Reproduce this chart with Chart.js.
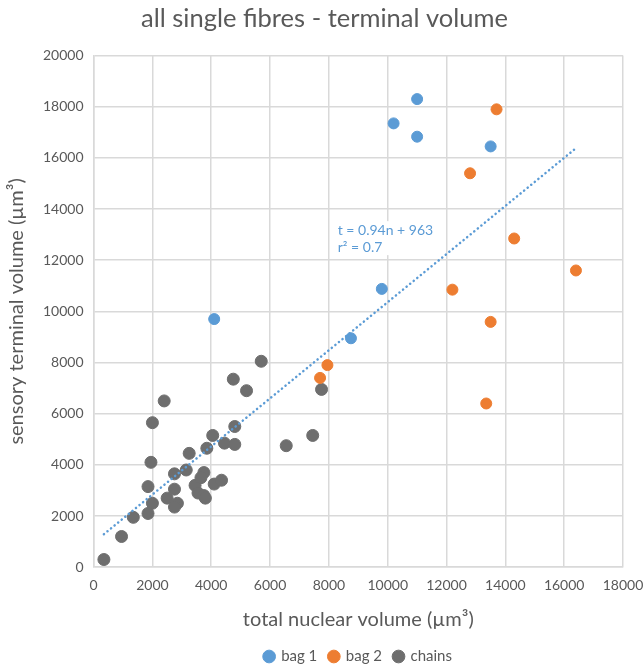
<!DOCTYPE html>
<html>
<head>
<meta charset="utf-8">
<script src="https://cdn.jsdelivr.net/npm/chart.js@4"></script>
<style>
  html, body { margin: 0; padding: 0; background: #fff; }
  #wrap { width: 644px; height: 667px; }
</style>
</head>
<body>
<div id="wrap"><canvas id="myChart" width="644" height="667"></canvas></div>
<script>
// values
const bag1X = [11000, 10200, 11000, 13500, 9800, 4100, 8750]
const bag1Y = [18300, 17350, 16830, 16450, 10880, 9700, 8950]

const bag2X = [13700, 12800, 14300, 16400, 12200, 13500, 7950, 7700, 13350]
const bag2Y = [17900, 15400, 12850, 11600, 10850, 9590, 7900, 7400, 6400]

const chainsX = [7750, 5700, 4750, 5200, 2400, 2000, 7450, 6550, 4800, 4450, 4800, 4050,
  3850, 3250, 3150, 2750, 2750, 1950, 1850, 2000, 1850, 1350, 950, 350, 2500, 2850,
  2750, 3450, 3550, 3750, 3650, 3750, 3800, 4100, 4350]
const chainsY = [6950, 8050, 7350, 6900, 6500, 5650, 5150, 4750, 5500, 4850, 4800, 5150,
  4650, 4450, 3800, 3650, 3050, 4100, 3150, 2500, 2100, 1950, 1200, 300, 2700, 2500,
  2350, 3200, 2900, 3700, 3500, 2800, 2700, 3250, 3400]

// trendline end points as drawn
const trendX = [350, 16400]
const trendY = [1290, 16380]

const xTicks = [0, 2000, 4000, 6000, 8000, 10000, 12000, 14000, 16000, 18000]
const yTicks = [0, 2000, 4000, 6000, 8000, 10000, 12000, 14000, 16000, 18000, 20000]

const blue = '#5B9BD5'
const orange = '#ED7D31'
const gray = '#6E6E6E'
const textColor = '#595959'
const gridColor = '#D9D9D9'
const font = 'Lato, "Open Sans", sans-serif'

function toPoints(xs, ys) {
  return xs.map((x, i) => ({ x: x, y: ys[i] }))
}

const trendLabel = {
  id: 'trendLabel',
  afterDatasetsDraw(chart) {
    const ctx = chart.ctx
    const x = chart.scales.x.getPixelForValue(8300)
    const y = chart.scales.y.getPixelForValue(13450)
    ctx.save()
    ctx.font = '14px ' + font
    ctx.fillStyle = '#fff'
    ctx.fillRect(x - 3, y - 2, 104, 34)
    ctx.fillStyle = blue
    ctx.textBaseline = 'top'
    ctx.fillText('t = 0.94n + 963', x, y)
    ctx.fillText('r² = 0.7', x, y + 17)
    ctx.restore()
  }
}

const chart = new Chart(document.getElementById('myChart').getContext('2d'), {
  type: 'scatter',
  data: {
    datasets: [
      {
        label: 'bag 1',
        data: toPoints(bag1X, bag1Y),
        backgroundColor: blue,
        borderColor: blue,
        pointRadius: 5.5,
        order: 2
      },
      {
        label: 'bag 2',
        data: toPoints(bag2X, bag2Y),
        backgroundColor: orange,
        borderColor: orange,
        pointRadius: 5.5,
        order: 2
      },
      {
        label: 'chains',
        data: toPoints(chainsX, chainsY),
        backgroundColor: gray,
        borderColor: gray,
        pointRadius: 6,
        order: 3
      },
      {
        label: 'trend',
        type: 'line',
        data: toPoints(trendX, trendY),
        borderColor: blue,
        borderWidth: 2.5,
        borderDash: [0.1, 4.5],
        borderCapStyle: 'round',
        pointRadius: 0,
        fill: false,
        order: 1
      }
    ]
  },
  options: {
    responsive: false,
    animation: false,
    layout: { padding: { left: 5, right: 0, top: 2, bottom: -7 } },
    plugins: {
      title: {
        display: true,
        text: 'all single fibres - terminal volume',
        color: textColor,
        font: { family: font, size: 25.5, weight: 'normal' },
        padding: { top: 1, bottom: 22 }
      },
      legend: {
        position: 'bottom',
        fullSize: false,
        labels: {
          color: textColor,
          font: { family: font, size: 15 },
          usePointStyle: true,
          pointStyle: 'circle',
          boxWidth: 9,
          boxHeight: 9,
          padding: 12,
          filter: item => item.text !== 'trend'
        }
      },
      tooltip: { enabled: false }
    },
    scales: {
      x: {
        type: 'linear',
        min: 0,
        max: 18000,
        afterBuildTicks: axis => { axis.ticks = xTicks.map(v => ({ value: v })) },
        afterFit: axis => { axis.paddingRight = 21 },
        grid: { color: gridColor, lineWidth: 1.5, drawTicks: false },
        border: { color: gridColor, width: 1.5 },
        ticks: { color: textColor, font: { family: font, size: 14 }, padding: 10, maxRotation: 0, callback: v => String(v) },
        title: {
          display: true,
          text: 'total nuclear volume (µm³)',
          color: textColor,
          font: { family: font, size: 20 },
          padding: { top: 4, bottom: 5 }
        }
      },
      y: {
        type: 'linear',
        min: 0,
        max: 20000,
        afterBuildTicks: axis => { axis.ticks = yTicks.map(v => ({ value: v })) },
        grid: { color: gridColor, lineWidth: 1.5, drawTicks: false },
        border: { color: gridColor, width: 1.5 },
        ticks: { color: textColor, font: { family: font, size: 14 }, padding: 10, callback: v => String(v) },
        title: {
          display: true,
          text: 'sensory terminal volume (µm³)',
          color: textColor,
          font: { family: font, size: 20 },
          padding: { top: 0, bottom: 4 }
        }
      }
    }
  },
  plugins: [trendLabel]
})
</script>
</body>
</html>
